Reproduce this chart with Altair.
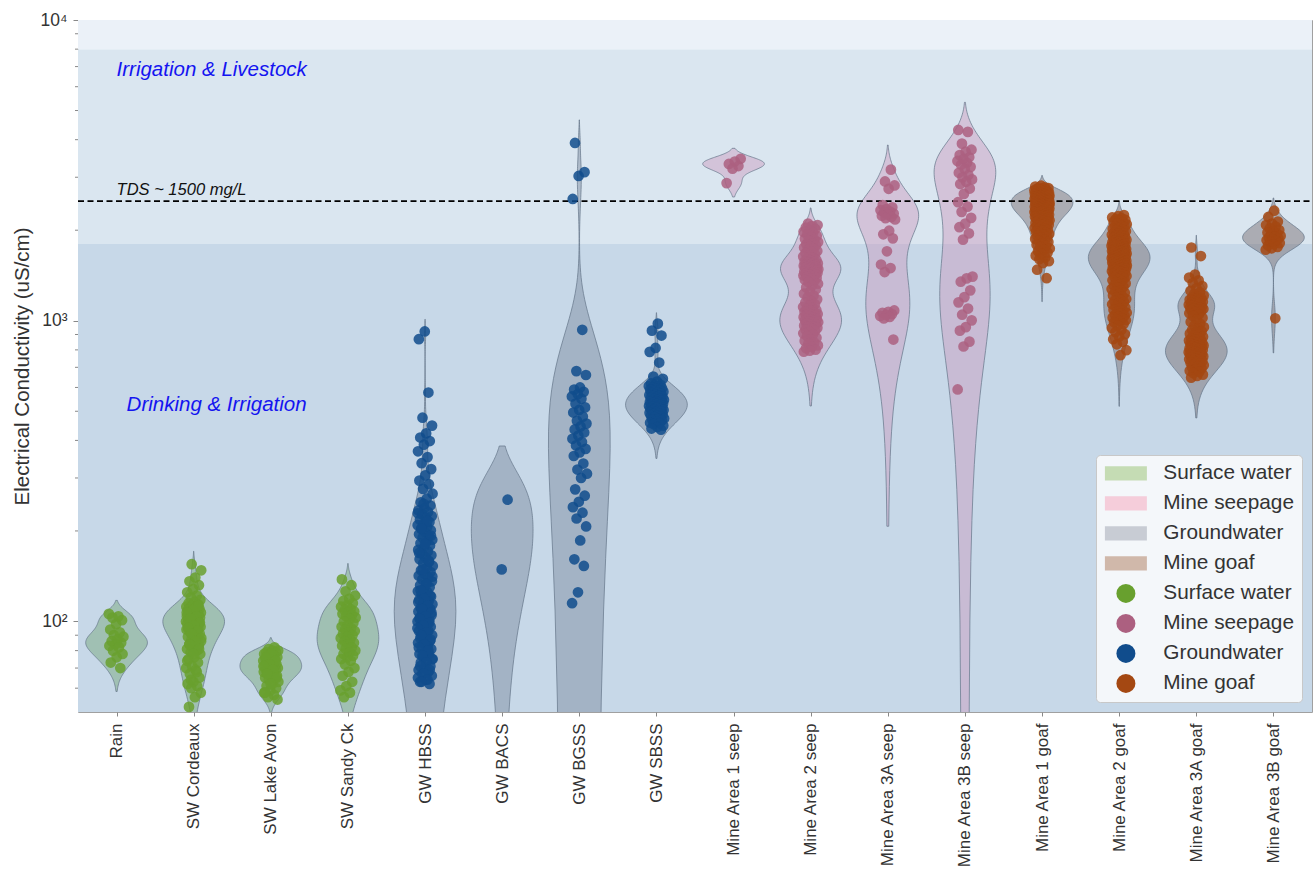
import numpy as np
import pandas as pd
import altair as alt

# ---------------------------------------------------------------- data
categories = [
    "Rain", "SW Cordeaux", "SW Lake Avon", "SW Sandy Ck",
    "GW HBSS", "GW BACS", "GW BGSS", "GW SBSS",
    "Mine Area 1 seep", "Mine Area 2 seep", "Mine Area 3A seep", "Mine Area 3B seep",
    "Mine Area 1 goaf", "Mine Area 2 goaf", "Mine Area 3A goaf", "Mine Area 3B goaf",
]
category_type = (
    ["Surface water"] * 4 + ["Groundwater"] * 4 + ["Mine seepage"] * 4 + ["Mine goaf"] * 4
)
water_types = ["Surface water", "Mine seepage", "Groundwater", "Mine goaf"]

# electrical conductivity samples (uS/cm)
ec_rain = [106, 104, 103, 101, 98, 94, 92, 90, 89, 87, 86, 85, 84, 83, 82, 80, 78, 76, 73, 70]
ec_sw_cordeaux = [
    155, 148, 140, 136, 132, 128, 125, 122, 120, 118, 116,
    115, 114, 113, 112, 112, 111, 110, 110, 109, 108, 108, 107, 106, 106, 105, 105,
    104, 104, 103, 103, 102, 102, 101, 101, 100, 100,
    99, 99, 98, 98, 97, 97, 96, 96, 95, 95, 94, 94, 93, 92, 91, 90,
    89, 88, 87, 86, 85, 84, 83, 82, 81, 80,
    79, 78, 76, 75, 73, 71, 70, 69, 67, 65, 63, 62, 61, 60, 58, 56, 52,
    113, 109, 107, 104, 102, 99, 97, 95, 93, 91, 88, 86, 84, 81, 78, 74, 68, 64,
]
ec_sw_lake_avon = [
    82, 81, 80, 80, 79, 79, 78, 78, 77, 77, 76, 76, 75, 75, 74, 74, 73, 73, 72, 72,
    71, 71, 70, 70, 70, 69, 69, 68, 68, 67, 67, 66, 66, 65, 65, 64, 63, 62, 61, 60,
    59, 58, 57, 56, 55, 78, 76, 74, 72, 71, 69, 67, 65, 62, 58,
]
ec_sw_sandy_ck = [
    138, 132, 126, 122, 119, 117, 115, 113, 112, 110, 109, 108, 107, 106, 105, 104,
    103, 102, 100, 99, 97, 96, 95, 94, 93, 92, 91, 90, 89, 88, 87, 86, 85, 84, 83,
    82, 81, 80, 79, 78, 77, 76, 75, 74, 72, 70, 68, 66, 63, 61, 59, 58, 56,
]
ec_gw_hbss = [
    921, 868, 577, 476, 448, 422, 409, 398, 387, 368, 352, 336, 321, 306, 294, 286,
    276, 266, 256, 249, 243, 238, 234, 231, 227, 224, 221, 218, 214, 211, 209, 206,
    203, 201, 198, 195, 192, 190, 187, 184, 182, 179, 176, 173, 171, 168, 166, 163,
    161, 158, 156, 153, 151, 148, 146, 144, 142, 140, 138, 136, 134, 132, 130, 128,
    126, 125, 123, 121, 120, 118, 117, 115, 114, 112, 111, 110, 109, 108, 108, 106,
    105, 105, 103, 101, 100, 100, 98, 97, 96, 94, 93, 93, 91, 90, 89, 88, 86, 85,
    85, 83, 82, 81, 79, 78, 78, 76, 75, 74, 73, 71, 70, 69, 68, 67, 66, 64, 63, 62,
    246, 229, 216, 204, 193, 181, 169, 159, 149, 141, 133, 127, 122, 119, 116, 113,
    110, 107, 104, 102, 99, 97, 95, 92, 90, 87, 84, 82, 80, 77, 75, 73, 71, 69, 67,
    65, 64, 63,
]
ec_gw_bacs = [254, 149]
ec_gw_bgss = [
    3900, 3120, 3030, 2540, 933, 680, 660, 600, 590, 580, 570, 560, 550, 530, 515,
    505, 495, 480, 465, 455, 445, 435, 425, 415, 405, 395, 385, 375, 365, 355, 335,
    320, 310, 300, 275, 262, 250, 240, 230, 220, 207, 186, 161, 153, 125, 115,
]
ec_gw_sbss = [
    978, 927, 893, 812, 788, 726, 652, 641, 628, 619, 612, 611, 606, 604, 598, 596,
    593, 589, 587, 583, 581, 576, 574, 571, 568, 566, 563, 561, 558, 557, 553, 551,
    549, 546, 545, 543, 541, 538, 537, 535, 533, 531, 529, 527, 525, 523, 521, 519,
    517, 515, 513, 511, 509, 507, 505, 503, 501, 499, 497, 494, 492, 490, 488, 485,
    483, 480, 478, 473, 471, 468, 466, 463, 458, 456, 453, 448, 443, 438, 434,
]
ec_seep_1 = [3455, 3384, 3322, 3268, 3205, 2868]
ec_seep_2 = [
    2104, 2081, 2063, 2040, 2018, 1992, 1975, 1958, 1934, 1915, 1897, 1872, 1860,
    1843, 1826, 1808, 1795, 1781, 1766, 1752, 1735, 1718, 1705, 1693, 1677, 1661,
    1648, 1634, 1619, 1603, 1592, 1582, 1574, 1566, 1559, 1551, 1545, 1538, 1533,
    1529, 1523, 1518, 1512, 1507, 1503, 1499, 1493, 1488, 1483, 1478, 1473, 1469,
    1463, 1458, 1452, 1447, 1442, 1438, 1432, 1427, 1420, 1413, 1406, 1398, 1388,
    1379, 1368, 1357, 1342, 1328, 1310, 1291, 1270, 1247, 1230, 1213, 1195, 1178,
    1163, 1149, 1135, 1121, 1111, 1102, 1094, 1086, 1078, 1071, 1065, 1059, 1053,
    1048, 1043, 1039, 1033, 1028, 1023, 1019, 1013, 1008, 1003, 999, 994, 989, 983,
    978, 973, 969, 963, 958, 952, 947, 940, 933, 925, 918, 908, 899, 888, 878, 867,
    857, 847, 838, 828, 819, 810, 801, 795, 789,
]
ec_seep_3a = [
    3180, 2905, 2818, 2746, 2425, 2384, 2352, 2331, 2308, 2292, 2271, 2253, 2234,
    2212, 2194, 2171, 1992, 1938, 1879, 1702, 1538, 1497, 1452, 1082, 1071, 1063,
    1052, 1046, 1038, 1029, 1018, 866,
]
ec_seep_3b = [
    4310, 4245, 3880, 3705, 3648, 3553, 3496, 3447, 3398, 3352, 3301, 3248, 3196,
    3104, 3052, 2998, 2951, 2897, 2848, 2752, 2641, 2478, 2396, 2302, 2198, 2104,
    2046, 1952, 1861, 1402, 1383, 1348, 1262, 1198, 1151, 1098, 1047, 1003, 952,
    927, 852, 821, 591,
]
ec_goaf_1 = [
    2812, 2794, 2775, 2768, 2760, 2748, 2735, 2726, 2718, 2709, 2702, 2695, 2690,
    2687, 2684, 2677, 2671, 2668, 2665, 2658, 2652, 2646, 2640, 2636, 2633, 2629,
    2626, 2618, 2611, 2607, 2604, 2600, 2597, 2591, 2585, 2581, 2578, 2572, 2566,
    2562, 2559, 2553, 2548, 2544, 2541, 2535, 2530, 2526, 2522, 2518, 2515, 2509,
    2503, 2500, 2497, 2492, 2488, 2482, 2476, 2473, 2470, 2466, 2462, 2456, 2451,
    2448, 2446, 2441, 2437, 2431, 2425, 2422, 2419, 2414, 2410, 2404, 2398, 2394,
    2391, 2387, 2384, 2378, 2372, 2368, 2365, 2361, 2357, 2352, 2348, 2342, 2336,
    2332, 2329, 2323, 2318, 2311, 2305, 2301, 2297, 2291, 2286, 2280, 2274, 2268,
    2263, 2257, 2251, 2245, 2240, 2233, 2226, 2219, 2212, 2204, 2197, 2191, 2185,
    2175, 2166, 2158, 2150, 2140, 2131, 2123, 2115, 2104, 2094, 2086, 2078, 2067,
    2056, 2044, 2033, 2022, 2012, 2001, 1990, 1977, 1964, 1953, 1942, 1928, 1915,
    1901, 1887, 1871, 1856, 1842, 1828, 1809, 1790, 1773, 1757, 1739, 1721, 1702,
    1684, 1665, 1646, 1624, 1602, 1578, 1555, 1478, 1385,
]
ec_goaf_2 = [
    2245, 2226, 2205, 2191, 2178, 2164, 2150, 2134, 2118, 2105, 2093, 2077, 2061,
    2047, 2034, 2022, 2010, 1997, 1985, 1973, 1962, 1953, 1944, 1932, 1921, 1912,
    1903, 1893, 1884, 1875, 1866, 1858, 1851, 1844, 1838, 1830, 1822, 1815, 1809,
    1802, 1796, 1791, 1787, 1780, 1774, 1768, 1763, 1759, 1755, 1749, 1744, 1738,
    1733, 1729, 1725, 1718, 1712, 1707, 1703, 1698, 1694, 1691, 1688, 1682, 1676,
    1672, 1669, 1663, 1658, 1652, 1647, 1644, 1641, 1636, 1632, 1628, 1624, 1618,
    1613, 1609, 1606, 1602, 1598, 1593, 1589, 1585, 1581, 1577, 1573, 1569, 1566,
    1561, 1557, 1553, 1549, 1543, 1538, 1534, 1530, 1525, 1521, 1516, 1512, 1507,
    1503, 1498, 1494, 1490, 1486, 1479, 1472, 1466, 1461, 1455, 1449, 1443, 1437,
    1430, 1422, 1415, 1408, 1400, 1393, 1383, 1374, 1363, 1352, 1341, 1331, 1320,
    1309, 1297, 1286, 1274, 1262, 1250, 1238, 1226, 1214, 1203, 1192, 1181, 1171,
    1162, 1153, 1143, 1134, 1125, 1116, 1107, 1098, 1088, 1079, 1071, 1063, 1054,
    1046, 1038, 1031, 1024, 1017, 1010, 1004, 996, 988, 975, 962, 946, 931, 916,
    902, 885, 868, 851, 835, 798, 768,
]
ec_goaf_3a = [
    1752, 1641, 1423, 1391, 1362, 1334, 1303, 1281, 1258, 1243, 1226, 1212, 1198,
    1192, 1186, 1180, 1174, 1168, 1163, 1157, 1152, 1146, 1141, 1135, 1130, 1125,
    1121, 1116, 1112, 1107, 1103, 1098, 1094, 1088, 1082, 1075, 1068, 1059, 1049,
    1036, 1022, 1006, 991, 977, 963, 952, 941, 931, 922, 914, 906, 899, 892, 885,
    879, 873, 868, 863, 859, 854, 850, 846, 842, 838, 834, 830, 827, 823, 820, 816,
    813, 809, 806, 803, 800, 797, 794, 791, 788, 785, 782, 779, 776, 773, 770, 767,
    764, 761, 758, 754, 751, 747, 744, 740, 737, 733, 729, 724, 720, 715, 711, 705,
    700, 694, 689, 682, 676, 669, 662, 655, 647,
]
ec_goaf_3b = [
    2322, 2214, 2136, 2104, 2081, 2055, 2026, 2003, 1982, 1966, 1948, 1931, 1915,
    1902, 1889, 1876, 1864, 1851, 1839, 1826, 1812, 1796, 1778, 1760, 1741, 1722, 1019,
]

samples = [
    ec_rain, ec_sw_cordeaux, ec_sw_lake_avon, ec_sw_sandy_ck,
    ec_gw_hbss, ec_gw_bacs, ec_gw_bgss, ec_gw_sbss,
    ec_seep_1, ec_seep_2, ec_seep_3a, ec_seep_3b,
    ec_goaf_1, ec_goaf_2, ec_goaf_3a, ec_goaf_3b,
]

# guideline bands (uS/cm) and the TDS threshold
band_lo = [45, 1800, 8000]
band_hi = [1800, 8000, 10000]
band_fill = ["#C7D8E8", "#DAE6F0", "#EBF1F8"]
tds_ec = 2500

y_ticks = [100, 1000, 10000]
y_minor = [60, 70, 80, 90, 200, 300, 400, 500, 600, 700, 800, 900,
           2000, 3000, 4000, 5000, 6000, 7000, 8000, 9000]

violin_fill = {
    "Surface water": "#70A374",
    "Groundwater": "#77889C",
    "Mine seepage": "#C99ABC",
    "Mine goaf": "#706769",
}
swatch_color = {
    "Surface water": "#C5DCB4",
    "Mine seepage": "#F5CDDA",
    "Groundwater": "#C8CCD4",
    "Mine goaf": "#D0B8AA",
}
point_color = {
    "Surface water": "#68A02E",
    "Mine seepage": "#AC6080",
    "Groundwater": "#104C8C",
    "Mine goaf": "#A44812",
}

# ---------------------------------------------------------------- layout
W, H = 1234, 692
Y_MIN, Y_MAX = 50, 10000
FONT = "Liberation Sans"
HALF_WIDTH = 0.4   # violin half width in category units
JITTER = 0.1


def kde_outline(values, gridsize=100, cut=2.0, floor=40.0):
    """Gaussian KDE (Scott bandwidth) on the linear values, sampled on a grid
    that extends cut * bandwidth past the data."""
    v = np.asarray(values, dtype=float)
    bw = v.std(ddof=1) * len(v) ** (-1.0 / 5.0)
    grid = np.linspace(v.min() - cut * bw, v.max() + cut * bw, gridsize)

    def dens(g):
        return np.exp(-0.5 * ((np.asarray(g)[:, None] - v[None, :]) / bw) ** 2).sum(axis=1)

    d = dens(grid)
    peak = d.max()
    keep = grid >= floor
    g = grid[keep]
    dd = d[keep]
    if grid[0] < floor:
        g = np.concatenate([[floor], g])
        dd = np.concatenate([dens([floor]), dd])
    return g, dd / peak


violin_rows = []
point_rows = []
for pos, (cat, kind, vals) in enumerate(zip(categories, category_type, samples)):
    g, d = kde_outline(vals)
    for ec, w in zip(g, d):
        violin_rows.append({
            "cat": cat, "ec": float(ec),
            "left": pos - HALF_WIDTH * w, "right": pos + HALF_WIDTH * w,
            "fill": violin_fill[kind],
        })
    for i, ec in enumerate(vals):
        frac = (i * 0.6180339887 + pos * 0.37) % 1.0
        point_rows.append({
            "cat": cat, "ec": ec, "key": "p:" + kind,
            "xj": pos + (frac - 0.5) * 2 * JITTER,
        })

violins_df = pd.DataFrame(violin_rows)
points_df = pd.DataFrame(point_rows)
bands_df = pd.DataFrame({"lo": band_lo, "hi": band_hi, "fill": band_fill})
tds_df = pd.DataFrame({"ec": [tds_ec]})
minor_df = pd.DataFrame({"ec": y_minor})
notes_df = pd.DataFrame({
    "x": [0.0, 0.13],
    "ec": [6500, 500],
    "text": ["Irrigation & Livestock", "Drinking & Irrigation"],
})
tds_label_df = pd.DataFrame({"x": [0.0], "ec": [tds_ec], "text": ["TDS ~ 1500 mg/L"]})

legend_keys = ["v:" + t for t in water_types] + ["p:" + t for t in water_types]
legend_colors = [swatch_color[t] for t in water_types] + [point_color[t] for t in water_types]
rect_path = "M-2.21,-0.74H2.21V0.74H-2.21Z"
legend_shapes = [rect_path] * 4 + ["circle"] * 4

# ---------------------------------------------------------------- scales & axes
y_scale = alt.Scale(type="log", domain=[Y_MIN, Y_MAX], nice=False)
x_scale = alt.Scale(domain=[-0.5, len(categories) - 0.5], nice=False, zero=False)

label_array = "[" + ",".join("'" + c + "'" for c in categories) + "]"
x_axis = alt.Axis(
    values=list(range(len(categories))), labelExpr=label_array + "[datum.value]",
    title=None, grid=False, domain=False, labelAngle=-90, labelAlign="right",
    labelBaseline="middle", labelFontSize=17, labelFont=FONT, labelColor="#333333",
    tickSize=4, tickColor="#888888", labelPadding=7,
)
y_axis = alt.Axis(
    values=y_ticks,
    labelExpr="datum.value == 100 ? '10²' : datum.value == 1000 ? '10³' : '10⁴'",
    title="Electrical Conductivity (uS/cm)", titleFontSize=20.5, titleFont=FONT,
    titleFontWeight="normal", titleColor="#333333", titleX=-50,
    titleBaseline="alphabetic",
    grid=False, domain=False, labelFontSize=17.5, labelFont=FONT, labelColor="#333333",
    tickSize=5, tickColor="#888888", labelPadding=6,
)


def yq(field):
    return alt.Y(field, type="quantitative", scale=y_scale, axis=y_axis)


def xq(field):
    return alt.X(field, type="quantitative", scale=x_scale, axis=x_axis, stack=None)


legend_def = alt.Legend(
    title=None, orient="bottom-right", offset=10, padding=8,
    fillColor="#F4F7FA", strokeColor="#C8C8C8", cornerRadius=4,
    labelFontSize=20.8, labelFont=FONT, labelColor="#333333",
    symbolSize=361, rowPadding=8, labelOffset=27, symbolOffset=11.5,
    symbolOpacity=1, symbolStrokeWidth=0,
    labelExpr="substring(datum.label, 2)",
)

# ---------------------------------------------------------------- layers
bands = alt.Chart(bands_df).mark_rect(clip=True).encode(
    x=alt.value(0), x2=alt.value(W),
    y=yq("lo"), y2="hi",
    fill=alt.Fill("fill:N", scale=None),
)

violins = alt.Chart(violins_df).mark_area(
    orient="horizontal", clip=True, fillOpacity=0.45,
    stroke="#66768A", strokeWidth=0.8, strokeOpacity=0.9,
).encode(
    y=yq("ec"), x=xq("left"), x2="right",
    fill=alt.Fill("fill:N", scale=None),
    detail="cat:N",
)

tds_line = alt.Chart(tds_df).mark_rule(
    color="black", strokeWidth=1.8, strokeDash=[6, 3.5]
).encode(x=alt.value(0), x2=alt.value(W), y=yq("ec"))

tds_text = alt.Chart(tds_label_df).mark_text(
    align="left", baseline="alphabetic", dy=-6, font=FONT, fontSize=16.5,
    fontStyle="italic", color="#111111",
).encode(x=xq("x"), y=yq("ec"), text="text:N")

notes = alt.Chart(notes_df).mark_text(
    align="left", baseline="alphabetic", font=FONT, fontSize=20.5,
    fontStyle="italic", color="#1414F0",
).encode(x=xq("x"), y=yq("ec"), text="text:N")

points = alt.Chart(points_df).mark_point(
    filled=True, size=115, opacity=0.85, strokeWidth=0,
).encode(
    x=xq("xj"), y=yq("ec"),
    color=alt.Color(
        "key:N", scale=alt.Scale(domain=legend_keys, range=legend_colors),
        legend=legend_def,
    ),
    shape=alt.Shape(
        "key:N", scale=alt.Scale(domain=legend_keys, range=legend_shapes),
        legend=legend_def,
    ),
)

minor_ticks = alt.Chart(minor_df).mark_rule(color="#888888", strokeWidth=1).encode(
    x=alt.value(-3), x2=alt.value(0), y=yq("ec")
)

chart = alt.layer(
    bands, violins, tds_line, tds_text, notes, points, minor_ticks
).properties(
    width=W, height=H,
    autosize=alt.AutoSizeParams(type="none"),
    padding={"left": 78, "top": 20, "right": 1, "bottom": 157},
).configure_view(
    stroke="#A0A0A0", strokeWidth=1
)

chart.save("out.html", embed_options={"renderer": "svg", "actions": False})
